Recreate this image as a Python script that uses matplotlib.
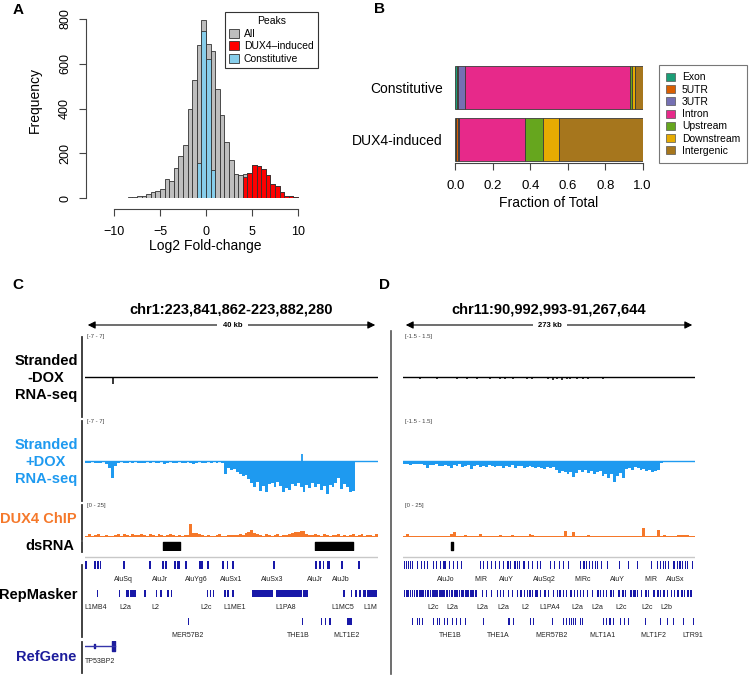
import numpy as np
import matplotlib.pyplot as plt
from matplotlib.patches import Patch, FancyArrowPatch
from matplotlib.lines import Line2D

plt.rcParams['font.family'] = ['Liberation Sans', 'DejaVu Sans']

W, H = 751, 676

# ---------------- panel A: log2 fold-change histogram (0.5 wide bins)
hist_start = -13.0
bin_w = 0.5
all_counts = [1, 0, 1, 0, 1, 1, 1, 2, 2, 3,
              4, 7, 11, 18, 25, 31, 38, 85, 78, 136,
              186, 238, 399, 527, 684, 796, 690, 655, 486, 370,
              252, 170, 108, 102, 108, 112, 148, 144, 130, 105,
              62, 52, 25, 10, 8, 3, 2, 1]
dux4_start = 4.0
dux4_counts = [95, 112, 148, 144, 130, 105, 62, 52, 25, 10, 8, 3, 2, 1]
const_start = -1.0
const_counts = [156, 748, 620, 125]

# ---------------- panel B: genomic annotation fractions
groups = ['Constitutive', 'DUX4-induced']
features = ['Exon', '5UTR', '3UTR', 'Intron', 'Upstream', 'Downstream', 'Intergenic']
feature_colors = ['#1B9E77', '#D95F02', '#7570B3', '#E7298A', '#66A61E', '#E6AB02', '#A6761D']
const_frac = [0.007, 0.009, 0.037, 0.879, 0.011, 0.018, 0.039]
dux4_frac = [0.006, 0.006, 0.006, 0.356, 0.096, 0.085, 0.445]

# ---------------- panel C: chr1 locus, 40 kb (positions in kb)
c_span = 40.418
c_minus_kb = [0.5, 1.1, 1.7, 2.3, 3.85]
c_minus_val = [-0.12, -0.12, -0.12, -0.15, -1.3]
c_plus_dox = [-0.3, -0.4, -0.2, -0.3, -0.4, -0.3, -0.2, -0.5, -1.2, -2.9,
              -0.8, -0.3, -0.2, -0.3, -0.4, -0.2, -0.3, -0.2, -0.3, -0.4,
              -0.3, -0.2, -0.3, -0.2, -0.4, -0.3, -0.2, -0.5, -0.3, -0.2,
              -0.3, -0.4, -0.2, -0.3, -0.3, -0.2, -0.3, -0.6, -0.3, -0.2,
              -0.3, -0.4, -0.2, -0.3, -0.2, -0.3, -0.2, -0.3, -2.3, -1.2,
              -1.6, -1.4, -1.9, -2.2, -2.6, -2.4, -3.2, -3.9, -4.6, -3.6,
              -5.2, -4.4, -5.4, -4.1, -3.8, -4.6, -3.7, -4.4, -5.5, -4.8,
              -5.0, -4.0, -4.3, -3.9, -4.6, -5.4, -4.2, -4.7, -3.9, -4.5,
              -4.1, -5.0, -4.3, -5.8, -4.2, -4.5, -3.8, -3.0, -4.9, -4.0,
              -4.6, -5.5, -5.2, -0.1, -0.1, -0.1, -0.1, -0.1, -0.1, -0.1,
              -0.1]
c_plus_spike_kb = [30.0]
c_plus_spike_val = [1.2]
c_chip = [1.0, 2.0, 0.5, 1.5, 2.5, 1.0, 0.5, 1.8, 1.0, 0.6,
          1.5, 2.0, 1.0, 2.2, 1.5, 0.8, 2.4, 1.2, 1.8, 2.6,
          1.4, 1.0, 2.0, 1.6, 0.8, 2.2, 1.4, 1.0, 1.8, 2.4,
          1.2, 1.0, 1.4, 0.6, 1.8, 1.2, 10.0, 3.5, 2.8, 2.0,
          1.2, 0.8, 1.6, 1.0, 0.6, 1.4, 2.0, 1.0, 0.8, 1.5,
          1.2, 1.2, 1.8, 2.4, 1.6, 3.0, 4.2, 5.8, 3.2, 2.0,
          1.5, 1.0, 2.0, 1.2, 0.8, 1.6, 2.2, 1.0, 1.8, 1.4,
          2.4, 3.0, 4.2, 3.6, 4.8, 4.5, 2.6, 1.8, 1.2, 2.0,
          1.4, 1.0, 2.2, 1.6, 0.8, 1.8, 1.2, 2.4, 1.0, 1.6,
          0.8, 1.4, 2.0, 1.0, 1.6, 2.2, 0.8, 1.8, 1.2, 1.0,
          2.6]
c_dsrna = [(10.75, 13.1), (31.7, 36.95)]
c_rep1 = [(0.0, 0.32), (1.21, 1.45), (1.72, 2.0), (2.07, 2.27), (5.28, 5.52), (8.87, 9.06),
          (10.69, 10.95), (11.02, 11.26), (12.31, 12.6), (12.7, 12.95), (13.0, 13.1),
          (13.79, 14.02), (15.72, 16.0), (16.05, 16.27), (16.78, 17.1), (18.96, 19.14),
          (19.54, 19.76), (20.34, 20.59), (25.92, 26.27), (31.71, 32.03), (32.31, 32.5),
          (32.77, 33.0), (33.33, 33.74), (35.3, 35.53), (37.68, 37.92)]
c_rep2 = [(1.61, 1.75), (4.73, 4.87), (5.65, 6.07), (6.2, 6.57), (6.66, 7.03), (8.18, 8.41),
          (9.79, 9.97), (10.34, 10.62), (11.35, 11.53), (11.81, 11.99), (16.78, 16.96),
          (17.23, 17.37), (17.6, 17.79), (19.17, 19.39), (19.62, 19.9), (20.22, 20.54),
          (22.98, 25.97), (26.33, 29.87), (30.1, 30.7), (35.62, 35.89), (36.63, 36.9),
          (37.18, 37.46), (37.73, 38.14), (38.37, 38.74), (38.93, 40.22)]
c_rep3 = [(14.25, 14.39), (29.91, 30.1), (32.5, 32.7), (33.1, 33.3), (33.7, 33.9),
          (36.2, 36.5), (36.6, 36.85)]
c_rep_labels = [[(5.3, 'AluSq'), (10.3, 'AluJr'), (15.4, 'AluYg6'), (20.2, 'AluSx1'),
                 (25.8, 'AluSx3'), (31.7, 'AluJr'), (35.3, 'AluJb')],
                [(1.5, 'L1MB4'), (5.5, 'L2a'), (9.75, 'L2'), (16.7, 'L2c'), (20.7, 'L1ME1'),
                 (27.7, 'L1PA8'), (35.6, 'L1MC5'), (39.3, 'L1M')],
                [(14.1, 'MER57B2'), (29.4, 'THE1B'), (36.1, 'MLT1E2')]]
gene_name = 'TP53BP2'
gene_start, gene_end = 0.0, 4.1
gene_exons = [(1.25, 1.4, 0.25), (3.68, 4.12, 0.8)]  # start, end, relative height

# ---------------- panel D: chr11 locus, 273 kb (positions in kb)
d_span = 274.651
d_minus_kb = [6.6, 16, 22.3, 31.7, 39.5, 50.5, 59.9, 69.9, 74.9, 81.8, 91.2, 95.9, 103.8,
              108.5, 116.3, 121, 125.7, 136.7, 141.4, 144.5, 149.2, 153.9, 157.1, 163.3,
              169.6, 174.3, 179, 188.4, 204.1, 213.5]
d_minus_val = [-0.05, -0.06, -0.05, -0.07, -0.05, -0.06, -0.08, -0.06, -0.05, -0.07,
               -0.08, -0.06, -0.07, -0.05, -0.08, -0.06, -0.05, -0.09, -0.1, -0.08,
               -0.1, -0.09, -0.07, -0.08, -0.06, -0.07, -0.05, -0.06, -0.05, -0.04]
d_plus_dox = [-0.12, -0.10, -0.14, -0.11, -0.13, -0.12, -0.10, -0.15, -0.28, -0.14,
              -0.16, -0.12, -0.18, -0.20, -0.14, -0.17, -0.25, -0.15, -0.19, -0.13,
              -0.22, -0.18, -0.16, -0.30, -0.20, -0.15, -0.21, -0.18, -0.24, -0.16,
              -0.19, -0.23, -0.17, -0.20, -0.27, -0.18, -0.22, -0.16, -0.25, -0.20,
              -0.18, -0.26, -0.22, -0.19, -0.24, -0.28, -0.21, -0.25, -0.30, -0.23,
              -0.26, -0.22, -0.32, -0.45, -0.38, -0.42, -0.50, -0.40, -0.60, -0.44,
              -0.35, -0.40, -0.32, -0.45, -0.38, -0.48, -0.42, -0.36, -0.55, -0.50,
              -0.62, -0.48, -0.78, -0.58, -0.45, -0.62, -0.30, -0.25, -0.32, -0.22,
              -0.28, -0.35, -0.30, -0.38, -0.32, -0.40, -0.36, -0.34, -0.08, -0.03,
              -0.02, -0.05, -0.02, -0.04, -0.02, -0.01, -0.02, -0.01, -0.02, -0.01]
d_chip = [0.6, 2.5, 0.5, 0.4, 0.8, 0.5, 0.6, 0.4, 0.7, 0.5,
          0.6, 0.5, 1.0, 0.4, 0.6, 0.8, 2.0, 3.9, 0.9, 0.5,
          0.6, 1.5, 0.7, 0.5, 0.4, 0.8, 2.0, 0.6, 0.5, 0.7,
          0.4, 0.6, 0.5, 1.5, 0.6, 0.4, 0.7, 1.5, 0.8, 0.5,
          0.4, 0.6, 1.0, 2.5, 1.8, 0.7, 0.5, 0.4, 0.6, 0.5,
          0.7, 0.4, 0.6, 0.5, 0.8, 4.7, 0.6, 0.9, 3.9, 0.7,
          0.5, 0.4, 0.6, 1.2, 0.5, 0.4, 0.6, 0.5, 0.4, 0.5,
          0.6, 0.4, 0.5, 0.6, 0.4, 0.5, 0.7, 0.4, 0.6, 0.5,
          0.4, 0.6, 7.3, 0.8, 0.5, 1.0, 0.6, 5.7, 0.7, 1.5,
          0.6, 0.5, 0.8, 0.6, 1.5, 1.2, 1.6, 1.4, 0.5, 0.4]
d_dsrna = [(45.6, 46.6)]
d_rep1 = [(0.9, 1), (2.8, 1), (4.7, 1), (6.6, 1), (8.8, 1), (13.5, 1), (16.6, 1), (19.8, 1),
          (22.9, 1), (27.9, 1), (31, 1), (34.8, 1), (37.6, 2.4), (43.6, 1), (47.3, 1),
          (50.5, 1), (54.2, 1), (72.4, 1), (75.6, 1), (79.3, 1), (82.5, 1), (86.5, 1),
          (90.6, 1), (94.4, 1), (98.1, 1.5), (100.6, 1), (104.4, 1.6), (106.9, 1), (109.4, 1),
          (113.2, 1.8), (117.9, 1), (121, 1), (125.7, 1), (128.9, 1), (138.3, 1), (142, 1),
          (147, 1), (150.8, 1), (154.9, 1), (166.5, 1), (169.6, 1.4), (172.1, 1), (174.6, 1.4),
          (177.4, 1), (180.3, 1.2), (182.8, 1), (186.2, 1), (191.6, 1), (203.5, 1), (211.9, 1),
          (220.4, 1), (232.9, 1), (238.6, 1), (241.7, 1.2), (244.2, 1), (246.4, 1.4),
          (249.5, 1), (254.2, 1.2), (257.4, 1), (259.9, 1.4), (262.1, 1), (265.2, 1),
          (267.4, 1), (271.5, 1)]
d_rep2 = [(0.5, 1.2), (2.5, 1), (4.2, 1.5), (6.5, 1), (8.2, 1.6), (10.4, 1), (12, 2), (14.6, 1),
          (16.4, 1.2), (18.2, 1.6), (20.5, 1), (22.2, 2.2), (25, 1.4), (27, 2), (29.6, 1),
          (31.3, 1.6), (33.4, 1), (35, 2.4), (38, 1.2), (40, 2.2), (43, 1), (44.8, 2.6),
          (48, 1.4), (50, 2), (52.6, 1), (54.3, 1.8), (56.6, 1.2), (58.3, 2.4), (61.2, 1),
          (62.8, 2.6), (65.8, 1.2), (67.4, 2.2), (74, 1), (78, 1), (82.5, 1), (88, 1),
          (91.2, 1.4), (94.4, 1), (99, 1), (102.2, 1.2), (106.9, 1), (110, 1.6), (113.8, 1),
          (116.3, 1), (118.8, 1.4), (121.3, 1), (124.1, 1.8), (126.3, 1), (128.9, 1),
          (132.6, 1.6), (136.7, 1), (140.8, 1), (144.5, 1), (147, 1.2), (150.2, 1),
          (153.3, 1), (157.1, 1.4), (160.8, 1), (163.3, 1), (166.5, 1), (169, 1.2),
          (172.7, 1), (177.4, 1.6), (182.1, 2), (185.3, 1), (187.8, 1.6), (190.9, 1),
          (194.7, 1.8), (197.8, 1), (202.5, 1.4), (205.7, 2), (208.8, 1), (213.5, 1.8),
          (216.6, 2.2), (220.4, 1), (223.5, 1.2), (227.6, 1.8), (230.7, 1), (235.4, 1.4),
          (238.6, 2), (241.7, 1), (244.9, 1.6), (248, 1), (251.7, 1.2), (254.9, 1),
          (258, 1.6), (261.1, 2), (264.3, 1), (267.4, 1.4), (269.9, 1.8)]
d_rep3 = [(8.2, 1), (12.9, 1), (15.4, 1), (17.6, 1), (28.5, 1), (31.7, 1), (34.2, 1), (38.6, 1),
          (41.1, 1), (45.8, 1), (49.9, 1), (53.6, 1), (58.3, 1), (74.9, 1), (98.5, 2.6),
          (103.8, 1), (119.4, 1), (122, 1), (139.8, 1), (150.8, 1), (153.3, 1.2), (155.8, 1),
          (157.7, 1.4), (159.6, 1.2), (161.8, 1), (166.5, 1.2), (168, 1), (188.4, 1),
          (190.9, 1), (194, 1.2), (197.8, 1), (204.1, 1), (207.9, 1.2), (211.9, 1),
          (227.6, 1), (241.7, 1), (248, 1), (254.2, 1), (263, 1), (272.4, 1)]
d_rep_labels = [[(40.4, 'AluJo'), (73.4, 'MIR'), (97.5, 'AluY'), (132.6, 'AluSq2'),
                 (169, 'MIRc'), (202, 'AluY'), (233, 'MIR'), (255.8, 'AluSx')],
                [(27.9, 'L2c'), (46.7, 'L2a'), (74.6, 'L2a'), (94.4, 'L2a'), (115.4, 'L2'),
                 (137.7, 'L1PA4'), (164.3, 'L2a'), (183.1, 'L2a'), (205.1, 'L2c'),
                 (229.2, 'L2c'), (248, 'L2b')],
                [(44.2, 'THE1B'), (89.1, 'THE1A'), (139.9, 'MER57B2'), (187.5, 'MLT1A1'),
                 (235.5, 'MLT1F2'), (272.5, 'LTR91')]]

PLUS_BLUE = '#1E9AF0'
CHIP_ORANGE = '#F5782A'
REP_BLUE = '#1818A8'
GENE_BLUE = '#1C1C9C'

fig = plt.figure(figsize=(W / 100, H / 100), dpi=100)


def px_axes(x0, y0, x1, y1):
    return fig.add_axes([x0 / W, 1 - y1 / H, (x1 - x0) / W, (y1 - y0) / H])


def fx(x):
    return x / W


def fy(y):
    return 1 - y / H


# ================= A
ax = px_axes(86.4, 19, 307.2, 198)
left_all = hist_start + bin_w * np.arange(len(all_counts))
ax.bar(left_all, all_counts, width=bin_w, align='edge', color='#BEBEBE',
       edgecolor='#333333', linewidth=0.6)
left_dux = dux4_start + bin_w * np.arange(len(dux4_counts))
ax.bar(left_dux, dux4_counts, width=bin_w, align='edge', color='red',
       edgecolor='#333333', linewidth=0.6)
left_con = const_start + bin_w * np.arange(len(const_counts))
ax.bar(left_con, const_counts, width=bin_w, align='edge', color='#87CEEB',
       edgecolor='#333333', linewidth=0.6)
ax.set_xlim(-13, 11)
ax.set_ylim(0, 800)
for s in ['top', 'right']:
    ax.spines[s].set_visible(False)
ax.spines['bottom'].set_position(('outward', 8))
ax.spines['bottom'].set_bounds(-10, 10)
ax.spines['left'].set_bounds(0, 800)
for s in ['bottom', 'left']:
    ax.spines[s].set_color('#444444')
    ax.spines[s].set_linewidth(0.8)
ax.set_xticks([-10, -5, 0, 5, 10])
ax.set_yticks([0, 200, 400, 600, 800])
ax.tick_params(axis='x', length=5, width=0.8, colors='#444444', labelcolor='black',
               labelsize=9, pad=7)
ax.tick_params(axis='y', length=5, width=0.8, colors='#444444', labelcolor='black',
               labelsize=9, pad=6)
for lab in ax.get_yticklabels():
    lab.set_rotation(90)
    lab.set_va('center')
ax.set_xlabel('Log2 Fold-change', fontsize=10)
ax.xaxis.set_label_coords(0.54, -0.23)
ax.set_ylabel('Frequency', fontsize=10)
ax.yaxis.set_label_coords(-0.2, 0.55)
leg = ax.legend(handles=[Patch(facecolor='#BEBEBE', edgecolor='#333333', lw=0.6, label='All'),
                         Patch(facecolor='red', edgecolor='#333333', lw=0.6, label='DUX4\u2013induced'),
                         Patch(facecolor='#87CEEB', edgecolor='#333333', lw=0.6, label='Constitutive')],
                title='Peaks', fontsize=7.5, title_fontsize=7.5, loc='upper left',
                bbox_to_anchor=(fx(225), fy(12)), bbox_transform=fig.transFigure,
                borderaxespad=0, fancybox=False, framealpha=1, edgecolor='#333333',
                handlelength=0.9, handleheight=0.9, handletextpad=0.5, labelspacing=0.25,
                borderpad=0.4)
leg.get_frame().set_linewidth(0.8)
fig.text(fx(13), fy(10), 'A', fontsize=11, fontweight='bold', va='center')

# ================= B
bx = px_axes(455.3, 62, 642.7, 163)
ypos = [1.2, 0.0]
for yy, fr in zip(ypos, [const_frac, dux4_frac]):
    lefts = np.concatenate([[0], np.cumsum(fr)[:-1]])
    bx.barh(yy, fr, left=lefts, height=1.0, color=feature_colors,
            edgecolor='#3a3a3a', linewidth=0.6)
bx.set_xlim(0, 1)
bx.set_ylim(-0.556, 1.804)
for s in ['top', 'right', 'left']:
    bx.spines[s].set_visible(False)
bx.spines['bottom'].set_color('#444444')
bx.spines['bottom'].set_linewidth(0.8)
bx.set_xticks([0, 0.2, 0.4, 0.6, 0.8, 1.0])
bx.set_xticklabels(['0.0', '0.2', '0.4', '0.6', '0.8', '1.0'])
bx.tick_params(axis='x', length=5, width=0.8, colors='#444444', labelcolor='black',
               labelsize=9.5, pad=7)
bx.set_yticks(ypos)
bx.set_yticklabels(groups)
bx.tick_params(axis='y', length=0, labelsize=10, pad=9)
bx.set_xlabel('Fraction of Total', fontsize=10)
bx.xaxis.set_label_coords(0.5, -0.33)
leg2 = bx.legend(handles=[Patch(facecolor=c, edgecolor='#555555', lw=0.5, label=f)
                          for f, c in zip(features, feature_colors)],
                 fontsize=7.5, loc='upper left', bbox_to_anchor=(fx(659), fy(65)),
                 bbox_transform=fig.transFigure, borderaxespad=0, fancybox=False,
                 framealpha=1, edgecolor='#777777', handlelength=0.8, handleheight=0.8,
                 handletextpad=0.7, labelspacing=0.22, borderpad=0.7)
leg2.get_frame().set_linewidth(0.8)
fig.text(fx(374), fy(9), 'B', fontsize=11, fontweight='bold', va='center')


# ================= genome browser panels
def track(x0, x1, top, bottom, span, ylim):
    t = px_axes(x0, top, x1, bottom)
    t.set_xlim(0, span)
    t.set_ylim(*ylim)
    t.axis('off')
    return t


def browser(x0, x1, span, title, scale_text, rng_txt, minus_kb, minus_val,
            plus_vals, chip_vals, dsrna, reps, rep_labels, spikes=None, gene=True):
    xm = (x0 + x1) / 2
    fig.text(fx(xm), fy(310), title, fontsize=10.5, fontweight='bold', ha='center', va='center')
    fig.add_artist(FancyArrowPatch((fx(x0), fy(325)), (fx(x1), fy(325)),
                                   transform=fig.transFigure, arrowstyle='<|-|>',
                                   mutation_scale=11, lw=0.8, color='black'))
    fig.text(fx(xm + 1), fy(325.5), scale_text, fontsize=5.5, fontweight='bold', ha='center',
             va='center', bbox=dict(facecolor='white', edgecolor='none', pad=4))

    # -DOX stranded RNA-seq
    t1 = track(x0, x1, 337, 417, span, (-rng_txt[0], rng_txt[0]))
    t1.axhline(0, color='black', lw=1.0)
    t1.vlines(minus_kb, 0, minus_val, color='black', lw=1.1)
    fig.text(fx(x0 + 2), fy(337), rng_txt[1], fontsize=4.3, color='#444444', va='center')

    # +DOX stranded RNA-seq
    t2 = track(x0, x1, 421, 501, span, (-rng_txt[0], rng_txt[0]))
    edges = np.linspace(0, span, len(plus_vals) + 1)
    t2.stairs(plus_vals, edges, baseline=0, fill=True, color=PLUS_BLUE, lw=0)
    t2.axhline(0, color=PLUS_BLUE, lw=1.0)
    if spikes is not None:
        t2.vlines(spikes[0], 0, spikes[1], color=PLUS_BLUE, lw=1.3)
    fig.text(fx(x0 + 2), fy(421), rng_txt[1], fontsize=4.3, color='#444444', va='center')

    # DUX4 ChIP-seq
    t3 = track(x0, x1, 505, 537, span, (0, 25))
    edges = np.linspace(0, span, len(chip_vals) + 1)
    t3.stairs(chip_vals, edges, baseline=0, fill=True, color=CHIP_ORANGE, lw=0)
    t3.axhline(0, color='#F4C4A4', lw=0.6)
    fig.text(fx(x0 + 2), fy(506), '[0 - 25]', fontsize=4.3, color='#444444', va='center')

    # dsRNA
    t4 = track(x0, x1, 541, 551, span, (0, 1))
    t4.broken_barh([(a, b - a) for a, b in dsrna], (0.15, 0.75), color='black')

    # RepeatMasker, three rows
    t5 = track(x0, x1, 553, 645, span, (2.83, -0.42))
    t5.axhline(-0.29, color='#C8C8C8', lw=1.0)
    for r, row in enumerate(reps):
        t5.broken_barh(row, (r - 0.13, 0.26), color=REP_BLUE, lw=0)
        for pos, name in rep_labels[r]:
            t5.text(pos, r + 0.5, name, fontsize=5, ha='center', va='center', color='#222222')

    if gene:
        t6 = track(x0, x1, 641, 672, span, (0, 1))
        t6.plot([gene_start, gene_end], [0.84, 0.84], color='#3535AA', lw=1.0)
        for a, b, h in gene_exons:
            t6.broken_barh([(a, b - a)], (0.84 - h * 0.2, h * 0.4), color=GENE_BLUE)
        t6.text((gene_start + gene_end) / 2, 0.35, gene_name, fontsize=5, ha='center',
                va='center', color='#222222')


c_reps = [[(a, b - a) for a, b in c_rep1], [(a, b - a) for a, b in c_rep2],
          [(a, b - a) for a, b in c_rep3]]
browser(85, 378, c_span, 'chr1:223,841,862-223,882,280', '40 kb', (7, '[-7 - 7]'),
        c_minus_kb, c_minus_val, c_plus_dox, c_chip, c_dsrna, c_reps, c_rep_labels,
        spikes=(c_plus_spike_kb, c_plus_spike_val), gene=True)
browser(403, 695, d_span, 'chr11:90,992,993-91,267,644', '273 kb', (1.5, '[-1.5 - 1.5]'),
        d_minus_kb, d_minus_val, d_plus_dox, d_chip, d_dsrna, [d_rep1, d_rep2, d_rep3],
        d_rep_labels, gene=False)

# track separators on the left of each panel
for y0, y1 in [(337, 417), (421, 501), (505, 540), (542, 552), (565, 637), (642, 673)]:
    fig.add_artist(Line2D([fx(82), fx(82)], [fy(y0), fy(y1)], color='#333333', lw=1.3))
fig.add_artist(Line2D([fx(391), fx(391)], [fy(331), fy(674)], color='#555555', lw=1.2))

# track names
lab_kw = dict(fontsize=10.5, fontweight='bold', va='center')
fig.text(fx(46), fy(378), 'Stranded\n-DOX\nRNA-seq', ha='center', multialignment='center',
         linespacing=1.25, color='black', **lab_kw)
fig.text(fx(46), fy(462), 'Stranded\n+DOX\nRNA-seq', ha='center', multialignment='center',
         linespacing=1.25, color=PLUS_BLUE, **lab_kw)
fig.text(fx(77), fy(519), 'DUX4 ChIP', ha='right', color=CHIP_ORANGE, **lab_kw)
fig.text(fx(74), fy(546), 'dsRNA', ha='right', color='black', **lab_kw)
fig.text(fx(77), fy(595), 'RepMasker', ha='right', color='black', **lab_kw)
fig.text(fx(76), fy(657), 'RefGene', ha='right', color=GENE_BLUE, **lab_kw)

fig.text(fx(18), fy(285), 'C', fontsize=11, fontweight='bold', va='center', ha='center')
fig.text(fx(384), fy(285), 'D', fontsize=11, fontweight='bold', va='center', ha='center')

fig.savefig('out.png', dpi=100)
